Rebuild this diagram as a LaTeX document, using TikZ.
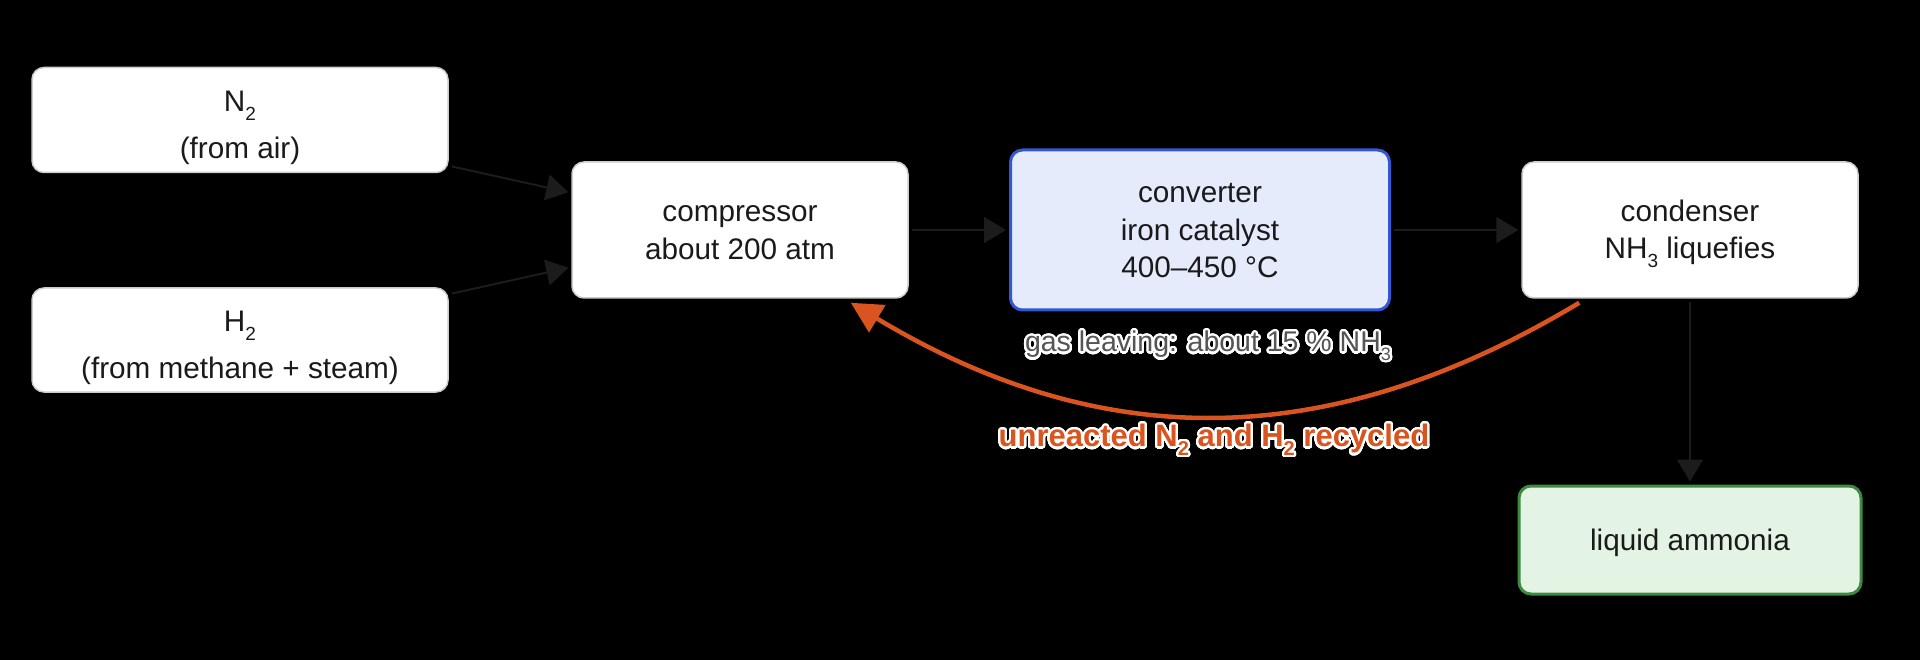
\documentclass[tikz,border=0pt]{standalone}
\usepackage{fontspec}
\setmainfont{Liberation Sans}
\usepackage{contour}
\usetikzlibrary{arrows.meta}
\definecolor{boxtext}{HTML}{1A1A1A}
\definecolor{boxline}{HTML}{CCCCCC}
\definecolor{arrowgray}{HTML}{1C1C1C}
\definecolor{convfill}{HTML}{E6EBFC}
\definecolor{convline}{HTML}{3556D2}
\definecolor{prodfill}{HTML}{E4F4E4}
\definecolor{prodline}{HTML}{3D8B40}
\definecolor{recycle}{HTML}{D9541E}
\definecolor{halogray}{HTML}{555555}
\contourlength{2.2pt}
\contournumber{40}
\newcommand{\chemsub}[2][19]{\raisebox{-8.5pt}{\fontsize{#1}{#1}\selectfont #2}}
\newcommand{\lstrut}{\rule[-8pt]{0pt}{37pt}}
\tikzset{font=\fontsize{29.7}{37.5}\selectfont}
\tikzstyle{box}=[draw=boxline,fill=white,line width=1.5pt,rounded corners=12pt,align=center,text=boxtext,inner sep=0pt]
\tikzstyle{hot}=[box,draw=convline,fill=convfill,line width=3pt]
\tikzstyle{product}=[box,draw=prodline,fill=prodfill,line width=3pt]

\begin{document}
\begin{tikzpicture}[x=1pt,y=-1pt]
\fill[black] (0,0) rectangle (1920,660);
\useasboundingbox (0,0) rectangle (1920,660);
\node[box,minimum width=416pt,minimum height=105pt] (A) at (240,120) {\rule{0pt}{38pt}N\chemsub{2}\\[9pt](from air)\lstrut};
\node[box,minimum width=416pt,minimum height=104pt] (B) at (240,340) {\rule{0pt}{38pt}H\chemsub{2}\\[9pt](from methane + steam)\lstrut};
\node[box,minimum width=336pt,minimum height=136pt] (C) at (740,230) {\lstrut compressor\\about 200 atm\lstrut};
\node[hot,minimum width=379pt,minimum height=160pt] (D) at (1200,230) {\lstrut converter\\iron catalyst\\400--450 °C\lstrut};
\node[box,minimum width=336pt,minimum height=136pt] (E) at (1690,230) {\lstrut condenser\\NH\chemsub{3} liquefies\lstrut};
\node[product,minimum width=342pt,minimum height=108pt] (F) at (1690,540) {\lstrut liquid ammonia};
\node[text=halogray,font=\fontsize{28.5}{34}\selectfont] (G) at (1208,347) {\contour{white}{gas leaving: about 15 \% NH\chemsub[18]{3}}};
\node[text=recycle,font=\fontsize{31}{37}\selectfont\bfseries] (R) at (1214,441) {\contour{white}{unreacted N\chemsub[20]{2} and H\chemsub[20]{2} recycled}};
\path[-{Triangle[length=22pt,width=26pt]},color=arrowgray,line width=2pt,shorten <=3pt,shorten >=3pt]
(A) edge (C)
(B) edge (C)
(C) edge (D)
(D) edge (E)
(E) edge (F);
%recycle loop back to the compressor
\draw[-{Triangle[length=31pt,width=31pt]},color=recycle,line width=4.5pt]
([shift={(58,4)}]E.south west) .. controls +(-251,151) and +(251,151) .. ([shift={(-58,4)}]C.south east);
\end{tikzpicture}
\end{document}
